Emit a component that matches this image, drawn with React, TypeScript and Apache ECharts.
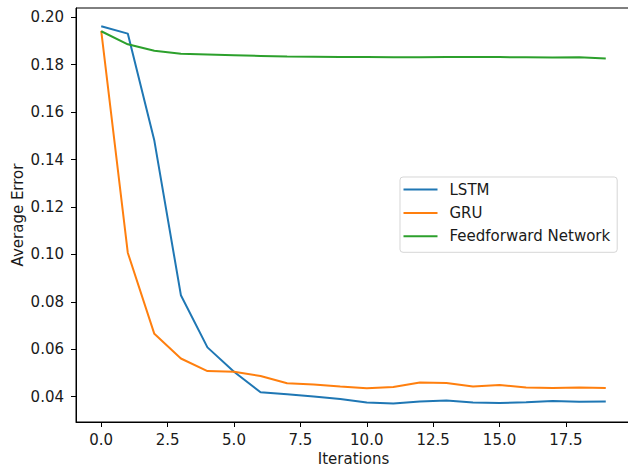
import React, { useEffect, useRef } from "react";
import * as echarts from "echarts";

const iterations = [0, 1, 2, 3, 4, 5, 6, 7, 8, 9, 10, 11, 12, 13, 14, 15, 16, 17, 18, 19];

const lstm = [
  0.1962, 0.1931, 0.148, 0.0828, 0.0608, 0.0505, 0.0419, 0.041, 0.0401, 0.039,
  0.0376, 0.0371, 0.038, 0.0384, 0.0376, 0.0373, 0.0377, 0.0382, 0.0379, 0.038,
];

const gru = [
  0.1943, 0.1007, 0.0665, 0.0561, 0.0508, 0.0505, 0.0487, 0.0457, 0.0451, 0.0443,
  0.0436, 0.0441, 0.046, 0.0458, 0.0443, 0.0449, 0.0439, 0.0437, 0.0439, 0.0437,
];

const feedforward = [
  0.1941, 0.1886, 0.1859, 0.1846, 0.1843, 0.184, 0.1837, 0.1834, 0.1833, 0.1832,
  0.1832, 0.1831, 0.1831, 0.1832, 0.1832, 0.1832, 0.1831, 0.183, 0.1831, 0.1826,
];

const xTicks = [0, 2.5, 5, 7.5, 10, 12.5, 15, 17.5];
const yTicks = [0.04, 0.06, 0.08, 0.1, 0.12, 0.14, 0.16, 0.18, 0.2];

const FONT = "DejaVu Sans";
const TEXT = "#1a1a1a";
const SIZE = 15;

export default function App() {
  const ref = useRef<HTMLDivElement>(null);

  useEffect(() => {
    document.body.style.margin = "0";
    if (!ref.current) return;
    const chart = echarts.init(ref.current, undefined, { renderer: "svg" });

    const pair = (ys: number[]) => iterations.map((x, i) => [x, ys[i]]);
    const line = (name: string, color: string, ys: number[]) => ({
      name,
      type: "line",
      data: pair(ys),
      showSymbol: false,
      symbol: "none",
      lineStyle: { color, width: 2 },
      itemStyle: { color },
    });

    chart.setOption({
      animation: false,
      backgroundColor: "#ffffff",
      textStyle: { fontFamily: FONT },
      grid: {
        left: 76,
        top: 8,
        width: 555,
        height: 414,
        outerBoundsMode: "none",
        containLabel: false,
        show: true,
        borderColor: "#000",
        borderWidth: 1,
        backgroundColor: "transparent",
      },
      legend: {
        orient: "vertical",
        left: 400,
        top: 177,
        icon: "rect",
        itemWidth: 34,
        itemHeight: 2,
        itemGap: 6.4,
        padding: [4, 7, 7.5, 3.5],
        backgroundColor: "#fff",
        borderColor: "rgba(204,204,204,0.8)",
        borderWidth: 1,
        borderRadius: 3,
        textStyle: {
          fontFamily: FONT,
          fontSize: SIZE,
          color: TEXT,
          lineHeight: 17,
          padding: [0, 0, 0, 7],
        },
        data: ["LSTM", "GRU", "Feedforward Network"],
      },
      xAxis: {
        type: "value",
        min: -0.95,
        max: 19.95,
        name: "Iterations",
        nameLocation: "middle",
        nameGap: 29,
        nameMoveOverlap: false,
        nameTextStyle: { fontFamily: FONT, fontSize: SIZE, color: TEXT },
        splitLine: { show: false },
        axisLine: { show: true, onZero: false, lineStyle: { color: "#000", width: 1 } },
        axisTick: {
          show: true,
          length: 5,
          inside: false,
          customValues: xTicks,
          lineStyle: { color: "#000", width: 1 },
        },
        axisLabel: {
          customValues: xTicks,
          margin: 10,
          fontFamily: FONT,
          fontSize: SIZE,
          color: TEXT,
          formatter: (v: number) => v.toFixed(1),
        },
      },
      yAxis: {
        type: "value",
        min: 0.02933,
        max: 0.2039,
        name: "Average Error",
        nameLocation: "middle",
        nameRotate: 90,
        nameGap: 51,
        nameMoveOverlap: false,
        nameTextStyle: { fontFamily: FONT, fontSize: SIZE, color: TEXT },
        splitLine: { show: false },
        axisLine: { show: true, onZero: false, lineStyle: { color: "#000", width: 1 } },
        axisTick: {
          show: true,
          length: 5,
          inside: false,
          customValues: yTicks,
          lineStyle: { color: "#000", width: 1 },
        },
        axisLabel: {
          customValues: yTicks,
          margin: 12,
          fontFamily: FONT,
          fontSize: SIZE,
          color: TEXT,
          formatter: (v: number) => v.toFixed(2),
        },
      },
      series: [
        line("LSTM", "#1f77b4", lstm),
        line("GRU", "#ff7f0e", gru),
        line("Feedforward Network", "#2ca02c", feedforward),
      ],
    });

    return () => chart.dispose();
  }, []);

  return <div ref={ref} style={{ width: 628, height: 467 }} />;
}
